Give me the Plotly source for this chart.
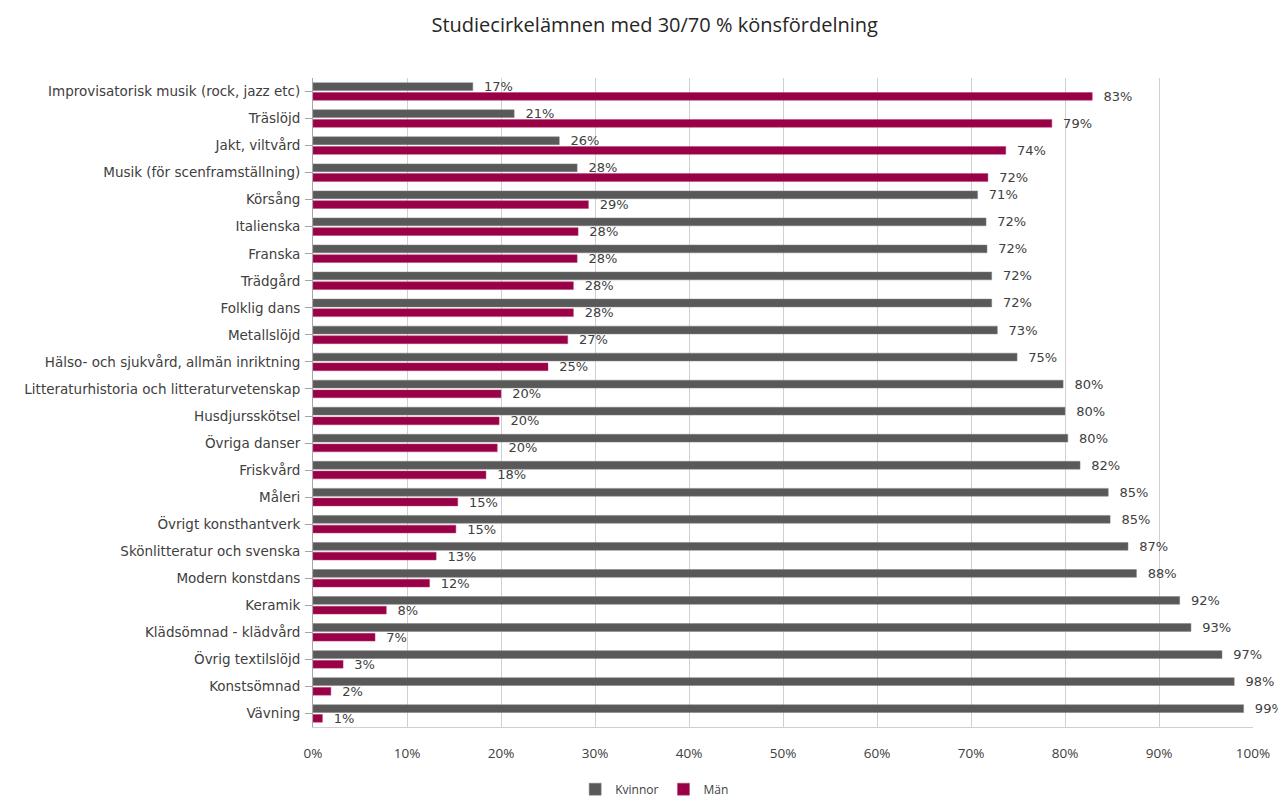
import plotly.graph_objects as go

categories = [
    "Improvisatorisk musik (rock, jazz etc)",
    "Träslöjd",
    "Jakt, viltvård",
    "Musik (för scenframställning)",
    "Körsång",
    "Italienska",
    "Franska",
    "Trädgård",
    "Folklig dans",
    "Metallslöjd",
    "Hälso- och sjukvård, allmän inriktning",
    "Litteraturhistoria och litteraturvetenskap",
    "Husdjursskötsel",
    "Övriga danser",
    "Friskvård",
    "Måleri",
    "Övrigt konsthantverk",
    "Skönlitteratur och svenska",
    "Modern konstdans",
    "Keramik",
    "Klädsömnad - klädvård",
    "Övrig textilslöjd",
    "Konstsömnad",
    "Vävning",
]

kvinnor = [17.0, 21.4, 26.2, 28.1, 70.7, 71.6, 71.7, 72.2, 72.2, 72.8, 74.9, 79.8,
           80.0, 80.3, 81.6, 84.6, 84.8, 86.7, 87.6, 92.2, 93.4, 96.7, 98.0, 99.0]
man = [82.9, 78.6, 73.7, 71.8, 29.3, 28.2, 28.1, 27.7, 27.7, 27.1, 25.0, 20.0,
       19.8, 19.6, 18.4, 15.4, 15.2, 13.1, 12.4, 7.8, 6.6, 3.2, 1.9, 1.0]

x_ticks = [0, 10, 20, 30, 40, 50, 60, 70, 80, 90, 100]

FONT = "DejaVu Sans"
FONT2 = "Open Sans"
TXT = "#404040"
PAD = "\u00a0\u00a0"

fig = go.Figure()
fig.add_trace(go.Bar(
    y=categories, x=kvinnor, name="Kvinnor", orientation="h",
    marker=dict(color="#595959", line=dict(color="#7f7f7f", width=0.5)),
    text=[f"{PAD}{round(v)}%" for v in kvinnor], textposition="outside",
    constraintext="none",
    textfont=dict(family=FONT, size=13, color=TXT), cliponaxis=False,
))
fig.add_trace(go.Bar(
    y=categories, x=man, name="Män", orientation="h",
    marker=dict(color="#990047", line=dict(color="#b3406f", width=0.5)),
    text=[f"{PAD}{round(v)}%" for v in man], textposition="outside",
    constraintext="none",
    textfont=dict(family=FONT, size=13, color=TXT), cliponaxis=False,
))

fig.update_layout(
    width=1278, height=802,
    paper_bgcolor="white", plot_bgcolor="white",
    margin=dict(l=305, r=33, t=70, b=83, autoexpand=False),
    barmode="group", bargap=0.28, bargroupgap=0.2,
    title=dict(text="Studiecirkelämnen med 30/70 % könsfördelning",
               x=0.506, xanchor="center", y=0.979, yanchor="middle",
               font=dict(family=FONT2, size=20, color="#262626")),
    font=dict(family=FONT, size=13, color=TXT),
    legend=dict(orientation="h", xref="container", yref="container",
                x=0.506, xanchor="center", y=0.026, yanchor="middle",
                font=dict(family=FONT2, size=12, color=TXT),
                itemwidth=30, tracegroupgap=0),
)
fig.update_xaxes(
    range=[0, 100], tickvals=x_ticks, ticktext=[f"{v}%" for v in x_ticks],
    showgrid=True, gridcolor="#d0d0d0", gridwidth=1,
    showline=True, linecolor="#d0d0d0", linewidth=1,
    zeroline=False, ticks="", tickfont=dict(family=FONT2, size=13.5, color=TXT),
    ticklabelstandoff=14,
)
fig.update_yaxes(
    autorange="reversed", showline=True, linecolor="#a6a6a6", linewidth=1,
    ticks="outside", ticklen=7, tickcolor="#a6a6a6",
    tickfont=dict(family=FONT, size=13.5, color=TXT), ticklabelstandoff=2,
)

fig.write_html("out.html")
